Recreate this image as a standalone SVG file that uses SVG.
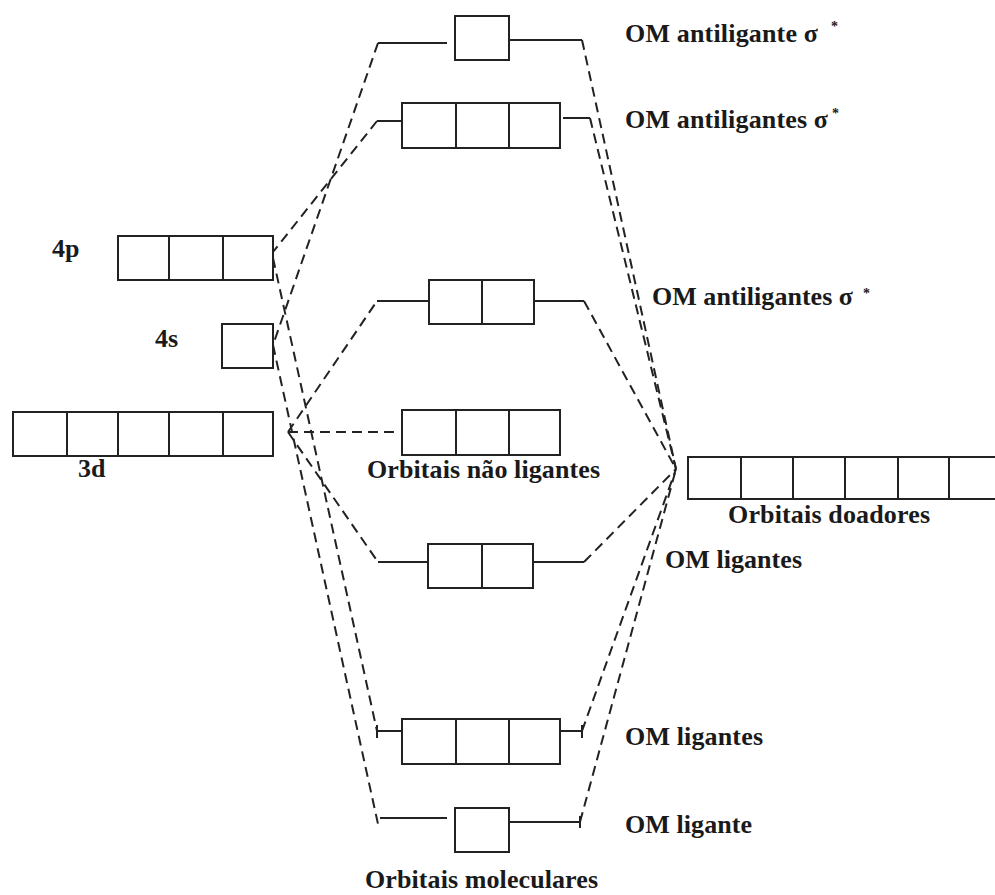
<svg xmlns="http://www.w3.org/2000/svg" width="995" height="895" viewBox="0 0 995 895">
<style>
.box{fill:#fff;stroke:#222;stroke-width:2}
.div{stroke:#222;stroke-width:2}
.stub{stroke:#222;stroke-width:2;fill:none}
.dash{stroke:#222;stroke-width:2;fill:none;stroke-dasharray:10 6}
.lbl{font-family:"Liberation Serif","Times New Roman","DejaVu Serif",serif;font-weight:bold;font-size:26px;fill:#1a1a1a}
.star{font-size:14px}
</style>
<rect width="995" height="895" fill="#fff"/>

<g id="connectors">
  <line class="stub" x1="378" y1="43" x2="447" y2="43"/>
  <line class="stub" x1="502" y1="40" x2="582" y2="40"/>
  <line class="stub" x1="377" y1="121" x2="402" y2="121"/>
  <line class="stub" x1="563" y1="118" x2="590" y2="118"/>
  <line class="stub" x1="377" y1="301" x2="429" y2="301"/>
  <line class="stub" x1="534" y1="301" x2="584" y2="301"/>
  <line class="stub" x1="378" y1="562" x2="428" y2="562"/>
  <line class="stub" x1="533" y1="562" x2="584" y2="562"/>
  <line class="stub" x1="377" y1="731" x2="402" y2="731"/>
  <line class="stub" x1="557" y1="731" x2="582" y2="731"/>
  <line class="stub" x1="377" y1="725" x2="377" y2="738"/>
  <line class="stub" x1="582" y1="725" x2="582" y2="738"/>
  <line class="stub" x1="380" y1="818" x2="447" y2="818"/>
  <line class="stub" x1="502" y1="822" x2="580" y2="822"/>
  <line class="stub" x1="580" y1="816" x2="580" y2="828"/>

  <line class="dash" x1="378" y1="43" x2="273" y2="345"/>
  <line class="dash" x1="377" y1="121" x2="273" y2="252"/>
  <line class="dash" x1="273" y1="258" x2="377" y2="731"/>
  <line class="dash" x1="273" y1="345" x2="378" y2="824"/>
  <line class="dash" x1="288" y1="432" x2="377" y2="301"/>
  <line class="dash" x1="288" y1="432" x2="395" y2="432"/>
  <line class="dash" x1="288" y1="432" x2="378" y2="562"/>

  <line class="dash" x1="582" y1="40" x2="676" y2="469"/>
  <line class="dash" x1="590" y1="118" x2="676" y2="469"/>
  <line class="dash" x1="584" y1="301" x2="676" y2="469"/>
  <line class="dash" x1="584" y1="562" x2="676" y2="469"/>
  <line class="dash" x1="582" y1="731" x2="676" y2="469"/>
  <line class="dash" x1="580" y1="822" x2="676" y2="469"/>
</g>

<g id="mo-antibonding-1">
  <rect class="box" x="455" y="16" width="54" height="44"/>
  <text class="lbl" x="625" y="42" textLength="193" lengthAdjust="spacing">OM antiligante σ</text>
  <text class="lbl star" x="831" y="31">*</text>
</g>

<g id="mo-antibonding-3">
  <rect class="box" x="402" y="103" width="158" height="45"/>
  <line class="div" x1="456" y1="103" x2="456" y2="148"/>
  <line class="div" x1="509" y1="103" x2="509" y2="148"/>
  <text class="lbl" x="625" y="128" textLength="203" lengthAdjust="spacing">OM antiligantes σ</text>
  <text class="lbl star" x="832" y="118">*</text>
</g>

<g id="ao-4p">
  <rect class="box" x="118" y="236" width="155" height="44"/>
  <line class="div" x1="169" y1="236" x2="169" y2="280"/>
  <line class="div" x1="223" y1="236" x2="223" y2="280"/>
  <text class="lbl" x="52" y="257">4p</text>
</g>

<g id="ao-4s">
  <rect class="box" x="222" y="324" width="51" height="44"/>
  <text class="lbl" x="155" y="347">4s</text>
</g>

<g id="ao-3d">
  <rect class="box" x="13" y="412" width="260" height="44"/>
  <line class="div" x1="67" y1="412" x2="67" y2="456"/>
  <line class="div" x1="118" y1="412" x2="118" y2="456"/>
  <line class="div" x1="169" y1="412" x2="169" y2="456"/>
  <line class="div" x1="223" y1="412" x2="223" y2="456"/>
  <text class="lbl" x="78" y="477">3d</text>
</g>

<g id="mo-antibonding-2">
  <rect class="box" x="429" y="280" width="105" height="44"/>
  <line class="div" x1="482" y1="280" x2="482" y2="324"/>
  <text class="lbl" x="652" y="305" textLength="201" lengthAdjust="spacing">OM antiligantes σ</text>
  <text class="lbl star" x="863" y="298">*</text>
</g>

<g id="mo-nonbonding">
  <rect class="box" x="402" y="410" width="158" height="45"/>
  <line class="div" x1="456" y1="410" x2="456" y2="455"/>
  <line class="div" x1="509" y1="410" x2="509" y2="455"/>
  <text class="lbl" x="367" y="478" textLength="233" lengthAdjust="spacing">Orbitais não ligantes</text>
</g>

<g id="donor-orbitals">
  <rect class="box" x="688" y="457" width="314" height="42"/>
  <line class="div" x1="741" y1="457" x2="741" y2="499"/>
  <line class="div" x1="793" y1="457" x2="793" y2="499"/>
  <line class="div" x1="845" y1="457" x2="845" y2="499"/>
  <line class="div" x1="898" y1="457" x2="898" y2="499"/>
  <line class="div" x1="949" y1="457" x2="949" y2="499"/>
  <text class="lbl" x="728" y="523" textLength="202" lengthAdjust="spacing">Orbitais doadores</text>
</g>

<g id="mo-bonding-2">
  <rect class="box" x="428" y="544" width="105" height="44"/>
  <line class="div" x1="482" y1="544" x2="482" y2="588"/>
  <text class="lbl" x="665" y="568" textLength="137" lengthAdjust="spacing">OM ligantes</text>
</g>

<g id="mo-bonding-3">
  <rect class="box" x="402" y="719" width="158" height="45"/>
  <line class="div" x1="456" y1="719" x2="456" y2="764"/>
  <line class="div" x1="509" y1="719" x2="509" y2="764"/>
  <text class="lbl" x="625" y="745" textLength="138" lengthAdjust="spacing">OM ligantes</text>
</g>

<g id="mo-bonding-1">
  <rect class="box" x="455" y="808" width="54" height="44"/>
  <text class="lbl" x="625" y="833" textLength="127" lengthAdjust="spacing">OM ligante</text>
</g>

<g id="caption">
  <text class="lbl" x="365" y="888" textLength="233" lengthAdjust="spacing">Orbitais moleculares</text>
</g>
</svg>
